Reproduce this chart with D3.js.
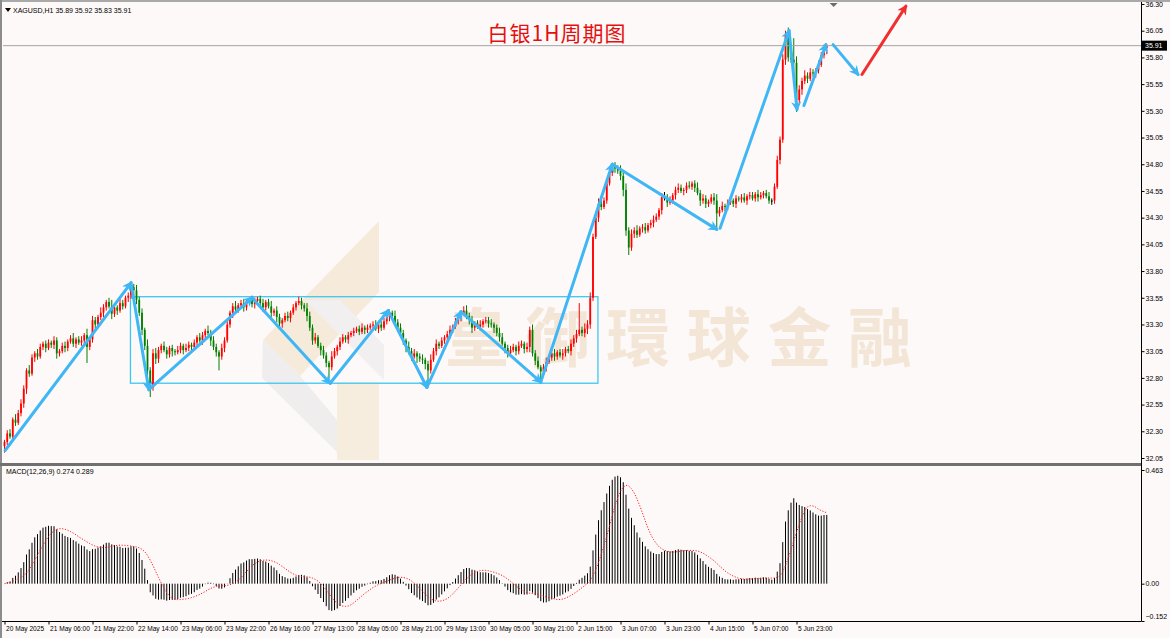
<!DOCTYPE html>
<html>
<head>
<meta charset="utf-8">
<script src="https://cdn.jsdelivr.net/npm/d3@7/dist/d3.min.js"></script>
<style>
  body { margin: 0; background: #fdf9f8; }
  svg { display: block; }
  .tick text, .lbl { font-family: "Liberation Sans", "DejaVu Sans", sans-serif; font-size: 7px; fill: #000; }
  .xax .tick text { font-size: 6.6px; }
</style>
</head>
<body>
<script>
// ---------------- data ----------------
var firstOpen = 32.16;
var closes = [
  32.20, 32.28, 32.25, 32.41, 32.38, 32.47, 32.56, 32.70, 32.87, 32.84, 32.99, 33.03, 33.00, 33.09, 33.12, 33.08,
  33.13, 33.11, 33.15, 33.03, 33.05, 33.10, 33.08, 33.14, 33.17, 33.12, 33.16, 33.13, 33.15, 33.20, 33.09, 33.16,
  33.34, 33.30, 33.37, 33.41, 33.46, 33.51, 33.47, 33.40, 33.46, 33.43, 33.50, 33.47, 33.55, 33.57, 33.65, 33.62,
  33.53, 33.41, 33.25, 33.10, 32.87, 32.71, 33.03, 32.98, 33.06, 33.10, 33.06, 33.02, 33.08, 33.05, 33.04, 33.06,
  33.10, 33.06, 33.08, 33.11, 33.09, 33.13, 33.18, 33.15, 33.20, 33.24, 33.22, 33.15, 33.09, 33.04, 33.00, 33.08,
  33.15, 33.30, 33.41, 33.47, 33.44, 33.48, 33.50, 33.46, 33.52, 33.53, 33.49, 33.52, 33.54, 33.50, 33.46, 33.51,
  33.47, 33.41, 33.43, 33.37, 33.31, 33.34, 33.38, 33.36, 33.41, 33.46, 33.50, 33.52, 33.48, 33.45, 33.38, 33.27,
  33.15, 33.18, 33.10, 33.06, 33.01, 32.94, 32.90, 33.00, 33.05, 33.09, 33.14, 33.18, 33.16, 33.20, 33.22, 33.24,
  33.26, 33.23, 33.27, 33.25, 33.27, 33.29, 33.30, 33.26, 33.30, 33.27, 33.33, 33.37, 33.41, 33.38, 33.32, 33.27,
  33.22, 33.15, 33.09, 33.05, 33.00, 33.03, 33.00, 32.98, 32.97, 32.93, 32.87, 32.97, 33.05, 33.12, 33.10, 33.15,
  33.18, 33.21, 33.25, 33.28, 33.33, 33.37, 33.40, 33.43, 33.38, 33.34, 33.27, 33.31, 33.28, 33.30, 33.33, 33.34,
  33.31, 33.30, 33.27, 33.22, 33.18, 33.12, 33.08, 33.03, 33.06, 33.09, 33.05, 33.10, 33.12, 33.07, 33.09, 33.25,
  33.03, 32.96, 32.90, 32.86, 32.90, 32.95, 32.99, 33.03, 33.00, 33.04, 33.01, 33.03, 33.07, 33.05, 33.12, 33.17,
  33.21, 33.25, 33.22, 33.26, 33.30, 33.55, 34.12, 34.30, 34.43, 34.40, 34.46, 34.62, 34.72, 34.78, 34.76, 34.74,
  34.69, 34.56, 34.18, 34.02, 34.15, 34.18, 34.14, 34.20, 34.21, 34.18, 34.23, 34.25, 34.28, 34.31, 34.37, 34.49,
  34.49, 34.44, 34.46, 34.51, 34.56, 34.58, 34.55, 34.56, 34.60, 34.59, 34.62, 34.58, 34.53, 34.46, 34.48, 34.43,
  34.45, 34.49, 34.46, 34.34, 34.37, 34.41, 34.40, 34.44, 34.46, 34.43, 34.48, 34.47, 34.49, 34.46, 34.50, 34.51,
  34.48, 34.52, 34.49, 34.51, 34.53, 34.50, 34.46, 34.46, 34.59, 34.84, 35.03, 35.78, 36.01, 35.80, 35.78, 35.75,
  35.40, 35.50, 35.58, 35.63, 35.60, 35.66, 35.65, 35.68, 35.73, 35.82, 35.89, 35.91
];
// upper / lower shadows in cents
var wickUp = [
  2,3,4,2,5,3,4,3,2,5,3,2,4,3,2,3,  3,2,4,3,2,3,4,2,3,5,2,3,4,2,6,3,
  4,3,2,5,3,2,4,6,3,2,4,3,2,3,4,3,  5,3,4,2,6,3,4,5,3,2,4,3,2,3,2,4,
  3,2,4,3,2,3,2,4,3,2,5,3,4,3,2,4,  3,4,2,3,5,2,3,4,2,2,4,3,2,3,4,2,
  3,5,2,4,3,2,3,4,2,3,2,4,3,2,5,4,  3,4,2,3,4,3,2,5,3,2,4,3,2,3,2,3,
  2,3,4,2,3,2,3,4,2,3,3,4,3,2,5,3,  4,3,2,5,3,4,2,3,4,2,3,5,3,4,2,3,
  2,3,4,2,3,2,3,4,5,3,4,2,3,4,2,3,  3,4,2,3,5,4,2,3,4,3,2,4,3,2,4,3,
  5,3,4,2,3,4,2,3,4,2,3,4,2,3,4,3,  4,25,3,5,4,5,3,4,5,6,3,4,3,2,4,3,
  5,4,6,3,4,3,5,2,3,4,2,3,4,3,2,4,  5,3,4,2,3,4,3,2,3,4,2,3,5,3,4,3,
  2,3,4,6,3,4,2,3,4,2,3,2,3,4,2,3,  3,2,4,3,2,3,4,2,3,4,3,5,4,7,5,20,
  6,4,3,5,3,4,3,2,4,3,3,1
];
var wickDn = [
  6,3,2,4,3,2,3,4,5,3,2,4,3,2,3,4,  2,3,4,5,3,2,4,3,2,3,4,2,3,4,15,3,
  3,4,2,3,4,3,2,5,3,4,2,3,2,4,3,5,  4,3,5,4,6,9,3,5,4,3,2,4,3,5,3,2,
  3,4,2,3,4,2,3,2,4,3,2,5,3,4,13,3, 4,2,3,5,4,3,2,4,3,2,3,4,2,3,4,3,
  2,4,3,5,3,4,2,3,4,2,3,2,4,3,5,3,  4,3,2,5,3,4,10,3,2,4,3,2,3,4,2,3,
  2,3,2,4,3,2,3,2,4,3,2,3,4,3,2,4,  3,4,5,3,4,2,6,3,4,5,16,3,2,4,3,2,
  3,2,4,3,2,3,4,2,3,4,5,3,2,4,3,2,  4,3,5,3,4,2,5,4,3,2,4,3,2,4,3,5,
  3,4,2,11,3,4,2,3,4,3,2,4,3,2,4,3, 4,2,3,4,5,4,3,2,4,3,2,3,2,3,4,3,
  4,6,5,7,3,4,3,2,4,3,2,3,4,2,3,4,  3,4,2,3,4,3,2,4,3,2,3,4,2,5,3,4,
  3,2,4,16,3,2,4,3,2,3,4,2,3,2,4,3, 2,3,4,2,3,2,3,4,3,2,4,3,5,4,3,19,
  11,4,5,3,4,2,3,4,3,2,3,6
];

var priceTicks = [32.05, 32.30, 32.55, 32.80, 33.05, 33.30, 33.55, 33.80, 34.05, 34.30, 34.55, 34.80, 35.05, 35.30, 35.55, 35.80, 36.05, 36.30];
var macdTicks = [-0.152, 0.00, 0.463];
var timeIdx = [0, 16, 32, 48, 64, 80, 96, 112, 128, 144, 160, 176, 192, 208, 224, 240, 256, 272, 288];
var timeLabels = ["20 May 2025", "21 May 06:00", "21 May 22:00", "22 May 14:00", "23 May 06:00", "23 May 22:00",
  "26 May 16:00", "27 May 13:00", "28 May 05:00", "28 May 21:00", "29 May 13:00", "30 May 05:00", "30 May 21:00",
  "2 Jun 15:00", "3 Jun 07:00", "3 Jun 23:00", "4 Jun 15:00", "5 Jun 07:00", "5 Jun 23:00"];
var lastPrice = 35.91;
var shiftBar = 301.5;

// annotations: [bar, price] pairs
var boxBars = [45.8, 215.8];
var boxPrices = [33.56, 32.75];
var blueArrows = [
  [[0.2, 32.12], [46, 33.69]],
  [[46, 33.69], [52.5, 32.69]],
  [[52.5, 32.69], [90, 33.55]],
  [[90, 33.55], [118.4, 32.75]],
  [[118.4, 32.75], [139.5, 33.43]],
  [[139.5, 33.43], [153.6, 32.71]],
  [[153.6, 32.71], [166, 33.42]],
  [[166, 33.42], [195, 32.76]],
  [[195, 32.76], [221, 34.80]],
  [[221, 34.80], [259, 34.19]],
  [[260.2, 34.20], [285.3, 36.05]],
  [[285.3, 36.05], [288.2, 35.31]],
  [[290.7, 35.35], [298.7, 35.92]],
  [[301.3, 35.92], [310.4, 35.64]]
];
var redArrows = [
  [[311.8, 35.64], [327.8, 36.28]]
];

// ---------------- layout ----------------
var W = 1170, H = 638;
var plotL = 3, plotR = 1141, mainT = 3, mainB = 463, macdT = 466, macdB = 621;

var svg = d3.select("body").append("svg").attr("width", W).attr("height", H);

var x = d3.scaleLinear().domain([0, 299]).range([4.5, 826.75]);
var y = d3.scaleLinear().domain([32.05, 36.30]).range([458, 4]);
var ym = d3.scaleLinear().domain([-0.152, 0.463]).range([621, 470]);

// frame
svg.append("rect").attr("x", 0).attr("y", 0).attr("width", W).attr("height", H).attr("fill", "#fdf9f8");
svg.append("rect").attr("x", 0).attr("y", 0).attr("width", W).attr("height", 2).attr("fill", "#a9a9a9");
svg.append("rect").attr("x", 0).attr("y", 0).attr("width", 2).attr("height", H).attr("fill", "#8c8c8c");

svg.append("defs").append("clipPath").attr("id", "mainclip")
  .append("rect").attr("x", plotL).attr("y", mainT).attr("width", plotR - plotL).attr("height", mainB - mainT);

// watermark logo
var wm = svg.append("g").attr("clip-path", "url(#mainclip)");
wm.append("polygon").attr("points", "379,221 379,292 300,376 263,340").attr("fill", "#f6eadb");
wm.append("polygon").attr("points", "263,340 300,376 337,420 337,452 262,378").attr("fill", "#efedee");
wm.append("polygon").attr("points", "305,300 340,300 384,345 384,380").attr("fill", "#f1efef");
wm.append("polygon").attr("points", "337,382 379,382 379,460 337,460").attr("fill", "#f7eddf");
wm.append("text").attr("x", 445).attr("y", 361)
  .attr("textLength", 467).attr("lengthAdjust", "spacing")
  .style("font-family", "'Noto Sans CJK TC','Noto Sans CJK SC',sans-serif")
  .style("font-size", "64px").style("font-weight", "700").style("fill", "#f3e6d6")
  .text("皇御環球金融");

// consolidation box
svg.append("rect")
  .attr("x", x(boxBars[0])).attr("y", y(boxPrices[0]))
  .attr("width", x(boxBars[1]) - x(boxBars[0])).attr("height", y(boxPrices[1]) - y(boxPrices[0]))
  .attr("fill", "none").attr("stroke", "#3cc8f2").attr("stroke-width", 1.3);

// candles
var bars = closes.map(function (c, i) {
  var o = i === 0 ? firstOpen : closes[i - 1];
  return { i: i, o: o, c: c, h: Math.max(o, c) + wickUp[i] / 100, l: Math.min(o, c) - wickDn[i] / 100 };
});
function candleColor(d) { return d.c > d.o ? "#ff0000" : (d.c < d.o ? "#008000" : "#000000"); }

var cg = svg.append("g").attr("clip-path", "url(#mainclip)");
cg.selectAll("line.wick").data(bars).enter().append("line")
  .attr("class", "wick")
  .attr("x1", function (d) { return x(d.i); }).attr("x2", function (d) { return x(d.i); })
  .attr("y1", function (d) { return y(d.h); }).attr("y2", function (d) { return y(d.l); })
  .attr("stroke", candleColor).attr("stroke-width", 1);
cg.selectAll("rect.body").data(bars).enter().append("rect")
  .attr("class", "body")
  .attr("x", function (d) { return x(d.i) - 0.9; })
  .attr("width", 1.8)
  .attr("y", function (d) { return y(Math.max(d.o, d.c)); })
  .attr("height", function (d) { return Math.max(1, Math.abs(y(d.o) - y(d.c))); })
  .attr("fill", candleColor);

// current price line
svg.append("line").attr("x1", plotL).attr("x2", plotR).attr("y1", y(lastPrice)).attr("y2", y(lastPrice))
  .attr("stroke", "#a3a3a3").attr("stroke-width", 1);

// arrows
var defs = svg.select("defs");
function addMarker(id, color) {
  defs.append("marker").attr("id", id).attr("viewBox", "0 0 10 10")
    .attr("refX", 8).attr("refY", 5).attr("markerWidth", 3.4).attr("markerHeight", 3.4)
    .attr("orient", "auto").attr("markerUnits", "strokeWidth")
    .append("path").attr("d", "M0,0 L10,5 L0,10 L3,5 Z").attr("fill", color);
}
addMarker("ab", "#3fb6f5");
addMarker("ar", "#f03030");
function drawArrows(list, color, mid) {
  svg.append("g").selectAll("line").data(list).enter().append("line")
    .attr("x1", function (d) { return x(d[0][0]); }).attr("y1", function (d) { return y(d[0][1]); })
    .attr("x2", function (d) { return x(d[1][0]); }).attr("y2", function (d) { return y(d[1][1]); })
    .attr("stroke", color).attr("stroke-width", 3).attr("stroke-linecap", "round")
    .attr("marker-end", "url(#" + mid + ")");
}
drawArrows(blueArrows, "#3fb6f5", "ab");
drawArrows(redArrows, "#f03030", "ar");

// title & header
svg.append("text").attr("x", 557).attr("y", 41).attr("text-anchor", "middle")
  .style("font-family", "'Noto Sans CJK SC',sans-serif").style("font-size", "21px").style("fill", "#e31010")
  .attr("letter-spacing", "1px")
  .text("白银1H周期图");
svg.append("path").attr("d", "M5,8 L11,8 L8,12 Z").attr("fill", "#000");
svg.append("text").attr("class", "lbl").attr("x", 13).attr("y", 12.5).text("XAGUSD,H1  35.89 35.92 35.83 35.91");
svg.append("path").attr("d", "M" + (x(shiftBar) - 4) + ",3 L" + (x(shiftBar) + 4) + ",3 L" + x(shiftBar) + ",7 Z").attr("fill", "#6b6b6b");

// pane separator
svg.append("rect").attr("x", 0).attr("y", mainB).attr("width", plotR + 1).attr("height", 3).attr("fill", "#707070");

// MACD pane
var e12 = [], e26 = [];
closes.forEach(function (c, i) {
  e12.push(i === 0 ? c : e12[i - 1] + (2 / 13) * (c - e12[i - 1]));
  e26.push(i === 0 ? c : e26[i - 1] + (2 / 27) * (c - e26[i - 1]));
});
var macd = closes.map(function (c, i) { return e12[i] - e26[i]; });
var signal = macd.map(function (v, i) { return d3.mean(macd.slice(Math.max(0, i - 8), i + 1)); });

svg.append("g").selectAll("rect").data(macd).enter().append("rect")
  .attr("x", function (d, i) { return x(i) - 0.5; })
  .attr("width", 1)
  .attr("y", function (d) { return Math.min(ym(d), ym(0)); })
  .attr("height", function (d) { return Math.abs(ym(d) - ym(0)); })
  .attr("fill", "#000");
svg.append("path").datum(signal)
  .attr("d", d3.line().x(function (d, i) { return x(i); }).y(function (d) { return ym(d); }))
  .attr("fill", "none").attr("stroke", "#ff1a1a").attr("stroke-width", 1).attr("stroke-dasharray", "1.2,1.6");
svg.append("text").attr("class", "lbl").attr("x", 6).attr("y", 474).text("MACD(12,26,9) 0.274 0.289");

// axes
svg.append("line").attr("x1", plotR + 0.5).attr("x2", plotR + 0.5).attr("y1", 2).attr("y2", macdB)
  .attr("stroke", "#000");
svg.append("line").attr("x1", 2).attr("x2", plotR + 0.5).attr("y1", macdB + 0.5).attr("y2", macdB + 0.5)
  .attr("stroke", "#000");

var ay = svg.append("g").attr("transform", "translate(" + (plotR + 0.5) + ",0)")
  .call(d3.axisRight(y).tickValues(priceTicks).tickFormat(d3.format(".2f")).tickSize(3).tickSizeOuter(0));
var am = svg.append("g").attr("transform", "translate(" + (plotR + 0.5) + ",0)")
  .call(d3.axisRight(ym).tickValues(macdTicks).tickFormat(function (d) { return d === 0 ? "0.00" : d3.format(".3f")(d); }).tickSize(3).tickSizeOuter(0));
var ax = svg.append("g").attr("class", "xax").attr("transform", "translate(0," + (macdB + 0.5) + ")")
  .call(d3.axisBottom(x).tickValues(timeIdx).tickFormat(function (d, i) { return timeLabels[i]; }).tickSize(3).tickSizeOuter(0));
[ay, am, ax].forEach(function (g) {
  g.select(".domain").remove();
  g.selectAll(".tick line").attr("stroke", "#000");
  g.selectAll(".tick text").attr("x", function () { return g === ax ? 1 : 4; });
});
ax.selectAll(".tick text").attr("text-anchor", "start").attr("y", 5);
am.select(".tick:first-of-type text").attr("dy", "-0.3em");

// last price tag
svg.append("rect").attr("x", plotR + 1).attr("y", y(lastPrice) - 5).attr("width", 25).attr("height", 10).attr("fill", "#000");
svg.append("text").attr("class", "lbl").attr("x", plotR + 4).attr("y", y(lastPrice) + 2.5).style("fill", "#fff").text(lastPrice.toFixed(2));
</script>
</body>
</html>
